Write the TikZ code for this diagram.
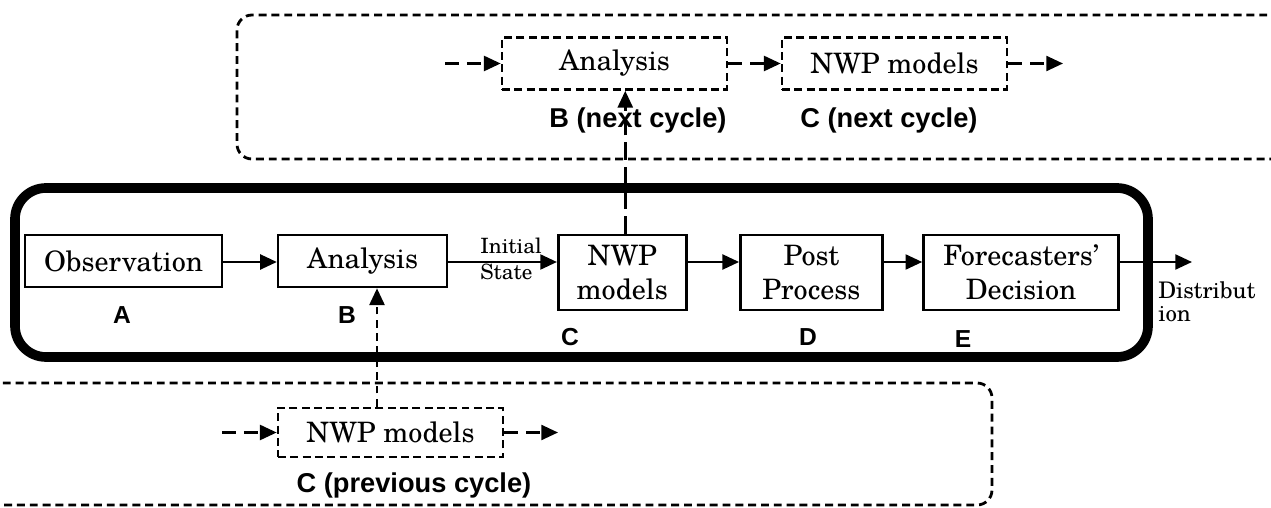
\documentclass[tikz,border=0pt]{standalone}
\usepackage{fontspec}
\setmainfont{TeX Gyre Schola}
\setsansfont{Liberation Sans}
\usetikzlibrary{arrows.meta,positioning}

\begin{document}
\begin{tikzpicture}[
node distance=1cm,
box/.style={rectangle, draw, line width=1.5pt, minimum height=1.04cm, font=\fontsize{16}{19.5}\selectfont, align=center, inner sep=2pt},
dbox/.style={box, dash pattern=on 4.5pt off 2.5pt},
arrow/.style={-{Triangle[length=9.5pt,width=8.5pt]}, line width=1.4pt},
darrow/.style={arrow, dash pattern=on 8pt off 4.5pt},
lbl/.style={font=\sffamily\bfseries\fontsize{14}{16}\selectfont},
cyclbl/.style={font=\sffamily\bfseries\fontsize{15.5}{18}\selectfont},
region/.style={line width=1.6pt, dash pattern=on 4.5pt off 2.8pt, rounded corners=0.3cm}
]
\useasboundingbox (0,0) rectangle (25.42,10.16);

% Current cycle
\node[box, minimum width=3.94cm] (obs) at (2.47,4.94) {Observation};
\node[box, minimum width=3.38cm, right=1.07cm of obs] (ana) {Analysis};
\node[box, minimum width=2.56cm, minimum height=1.5cm, right=2.17cm of ana.north east, anchor=north west] (nwp) {NWP\\models};
\node[box, minimum width=2.84cm, minimum height=1.5cm, right=1.03cm of nwp] (post) {Post\\Process};
\node[box, minimum width=3.9cm, minimum height=1.5cm, right=0.77cm of post] (fore) {Forecasters'\\Decision};
\draw[line width=5.5pt, rounded corners=0.62cm] (0.3,3.02) rectangle (22.96,6.4);
\coordinate (dist) at (23.84,4.92);

% Next cycle
\draw[region] (25.6,9.86) -| (4.74,6.98) -- (25.6,6.98);
\node[dbox, minimum width=4.5cm] (anaNext) at (12.29,8.89) {Analysis};
\node[dbox, minimum width=4.5cm] (nwpNext) at (17.89,8.89) {NWP models};
\coordinate (inNext) at (8.9,8.89);
\coordinate (outNext) at (21.26,8.89);

% Previous cycle
\draw[region] (-0.2,2.5) -| (19.84,0.06) -- (-0.2,0.06);
\node[dbox, minimum width=4.5cm, minimum height=0.98cm] (nwpPrev) at (7.81,1.51) {NWP models};
\coordinate (inPrev) at (4.44,1.51);
\coordinate (outPrev) at (11.16,1.51);

% Arrows
\draw[arrow] (obs.east |- dist) -- (ana.west |- dist);
\draw[arrow] (ana.east |- dist) -- (nwp.west |- dist);
\draw[arrow] (nwp.east |- dist) -- (post.west |- dist);
\draw[arrow] (post.east |- dist) -- (fore.west |- dist);
\draw[arrow] (fore.east |- dist) -- (dist);
\draw[darrow] (inNext) -- (anaNext);
\draw[darrow] (anaNext) -- (nwpNext);
\draw[darrow] (nwpNext) -- (outNext);
\draw[darrow] (inPrev) -- (nwpPrev);
\draw[darrow] (nwpPrev) -- (outPrev);
\draw[arrow, dash pattern=on 10pt off 4pt] ([xshift=0.06cm]nwp.north) -- ([xshift=0.06cm]nwp.north |- anaNext.south);
\draw[arrow, dash pattern=on 4.5pt off 3pt] ([xshift=-0.27cm]nwpPrev.north) -- ([xshift=-0.27cm]nwpPrev.north |- ana.south);

% Labels
\node[font=\fontsize{12}{14.7}\selectfont, align=left, inner sep=0] (init) at (10.22,4.98) {Initial\\State};
\node[font=\fontsize{13}{13}\selectfont, align=left, anchor=north west, inner sep=0] (distlbl) at (23.16,4.53) {Distribut\\ion};
\node[lbl] (la) at (2.44,3.86) {A};
\node[lbl] (lb) at (6.94,3.86) {B};
\node[lbl] (lc) at (11.4,3.42) {C};
\node[lbl] (ld) at (16.16,3.42) {D};
\node[lbl] (le) at (19.26,3.38) {E};
\node[cyclbl] (lbNext) at (12.76,7.76) {B (next cycle)};
\node[cyclbl] (lcNext) at (17.78,7.76) {C (next cycle)};
\node[cyclbl] (lcPrev) at (8.28,0.46) {C (previous cycle)};

\end{tikzpicture}
\end{document}
